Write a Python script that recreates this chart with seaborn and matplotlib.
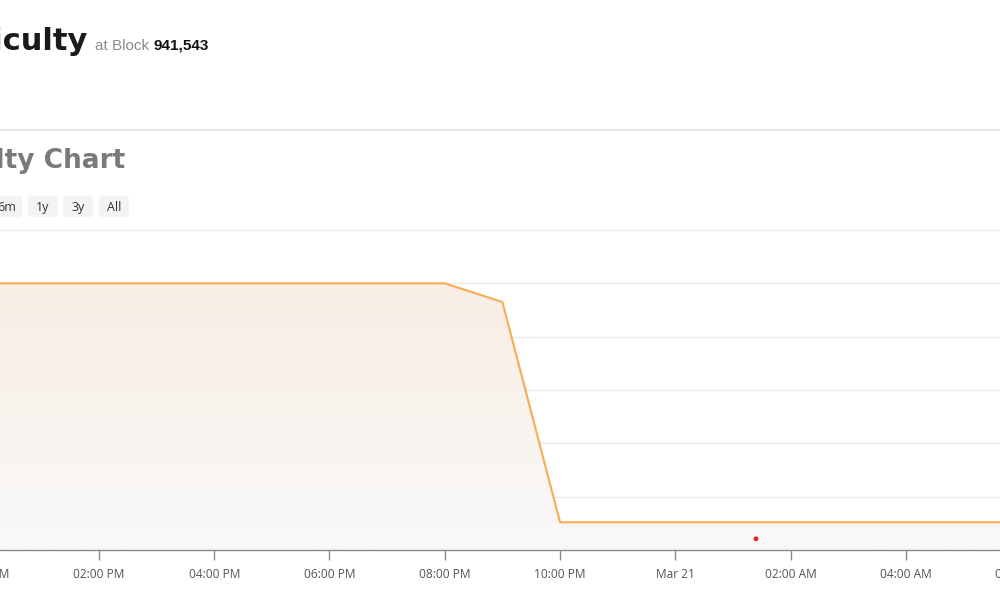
import numpy as np
import pandas as pd
import matplotlib
matplotlib.use("Agg")
import matplotlib.pyplot as plt
import matplotlib.dates as mdates
from matplotlib.patches import FancyBboxPatch, Polygon
from matplotlib.transforms import IdentityTransform
from matplotlib.colors import LinearSegmentedColormap
import seaborn as sns

# ── data (arbitrary difficulty units) ──
times = pd.to_datetime([
    "2025-03-20 12:00", "2025-03-20 13:00", "2025-03-20 14:00", "2025-03-20 15:00",
    "2025-03-20 16:00", "2025-03-20 17:00", "2025-03-20 18:00", "2025-03-20 19:00",
    "2025-03-20 20:00", "2025-03-20 21:00", "2025-03-20 22:00", "2025-03-20 23:00",
    "2025-03-21 00:00", "2025-03-21 01:00", "2025-03-21 02:00", "2025-03-21 03:00",
    "2025-03-21 04:00", "2025-03-21 05:00", "2025-03-21 06:00",
])
difficulty = [5.0, 5.0, 5.0, 5.0, 5.0, 5.0, 5.0, 5.0, 5.0, 4.65,
              0.52, 0.52, 0.52, 0.52, 0.52, 0.52, 0.52, 0.52, 0.52]
marker_time = pd.to_datetime(["2025-03-21 01:24"])
marker_value = [0.21]

tick_times = pd.to_datetime([
    "2025-03-20 12:00", "2025-03-20 14:00", "2025-03-20 16:00", "2025-03-20 18:00",
    "2025-03-20 20:00", "2025-03-20 22:00", "2025-03-21 00:00", "2025-03-21 02:00",
    "2025-03-21 04:00", "2025-03-21 06:00",
])
tick_labels = ["12:00 PM", "02:00 PM", "04:00 PM", "06:00 PM", "08:00 PM",
               "10:00 PM", "Mar 21", "02:00 AM", "04:00 AM", "06:00 AM"]
view_start, view_end = "2025-03-20 12:17", "2025-03-21 05:38"   # visible page crop
ranges = ["6m", "1y", "3y", "All"]

df = pd.DataFrame({"time": mdates.date2num(times), "difficulty": difficulty})

LINE = "#F6B05C"
GRID = "#EBEBEB"
AXIS = "#8A8A8A"

sns.set_theme(style="white")
plt.rcParams["font.family"] = ["Open Sans", "DejaVu Sans"]

W, H = 1000, 600
fig = plt.figure(figsize=(10, 6), dpi=100)


def fx(x):
    return x / W


def fy(y):
    return 1 - y / H


# axes run past both page edges (the screenshot is cropped)
PAD = 70  # px hidden on each side
ax = fig.add_axes([fx(-PAD), fy(550), (W + 2 * PAD) / W, (550 - 230) / H])
ax.set_facecolor("white")

sns.lineplot(data=df, x="time", y="difficulty", ax=ax, color=LINE, lw=1.6, zorder=4)

# gradient fill under the line
xn = df["time"].to_numpy()
ymin, ymax = 0, 6
poly = Polygon(np.column_stack([np.r_[xn, xn[::-1]],
                                np.r_[difficulty, [ymin] * len(xn)]]),
               closed=True, fc="none", ec="none")
ax.add_patch(poly)
cmap = LinearSegmentedColormap.from_list("fill", ["#F9F9F9", "#F8EDE3"])
grad = np.linspace(0, 1, 256).reshape(-1, 1)
im = ax.imshow(grad, cmap=cmap, aspect="auto", origin="lower",
               extent=[xn[0], xn[-1], ymin, max(difficulty)], zorder=1)
im.set_clip_path(poly)

sns.scatterplot(x=mdates.date2num(marker_time), y=marker_value, ax=ax,
                color="#E8202A", s=12, edgecolor="none", zorder=5)

ax.set_yticks(np.arange(0, 7, 1))
ax.set_yticklabels([])
ax.tick_params(axis="y", length=0)
ax.grid(axis="y", color=GRID, lw=1, zorder=0)
ax.set_axisbelow(True)

ax.set_xticks(mdates.date2num(tick_times))
ax.set_xticklabels(tick_labels, fontsize=8.6, color="#555555")
ax.tick_params(axis="x", length=7, width=1, color=AXIS, pad=6, bottom=True)
ax.set_xlabel("")
ax.set_ylabel("")
for s in ["top", "left", "right"]:
    ax.spines[s].set_visible(False)
ax.spines["bottom"].set_color(AXIS)
ax.spines["bottom"].set_linewidth(1)

x0 = mdates.date2num(pd.Timestamp(view_start))
x1 = mdates.date2num(pd.Timestamp(view_end))
per_px = (x1 - x0) / W
ax.set_xlim(x0 - PAD * per_px, x1 + PAD * per_px)
ax.set_ylim(ymin, ymax)
ax.set_autoscale_on(False)

# ── header (page crop) ──
fig.text(fx(88), fy(42), "Difficulty", ha="right", va="center",
         fontsize=22, fontweight="bold", color="#1A1A1A", family="DejaVu Sans")
fig.text(fx(95), fy(46), "at Block", ha="left", va="center",
         fontsize=11, color="#8C8C8C", family="Liberation Sans")
fig.text(fx(154), fy(46), "941,543", ha="left", va="center",
         fontsize=11, fontweight="bold", color="#111111", family="Liberation Sans")

fig.add_artist(plt.Line2D([0, 1], [fy(130), fy(130)], transform=fig.transFigure,
                          color="#E6E6E6", lw=1.6))

fig.text(fx(125), fy(161), "Difficulty Chart", ha="right", va="center",
         fontsize=19, fontweight="bold", color="#7A7A7A", family="DejaVu Sans")

btn_left = [-8, 28, 63, 99]
for left, lab in zip(btn_left, ranges):
    box = FancyBboxPatch((left, H - 217), 30, 21, boxstyle="round,pad=0,rounding_size=3",
                         transform=IdentityTransform(), fc="#F3F3F3", ec="none")
    fig.add_artist(box)
    fig.text(fx(left + 15), fy(207.5), lab, ha="center", va="center",
             fontsize=9, color="#333333")

fig.savefig("out.png", dpi=100, facecolor="white")
